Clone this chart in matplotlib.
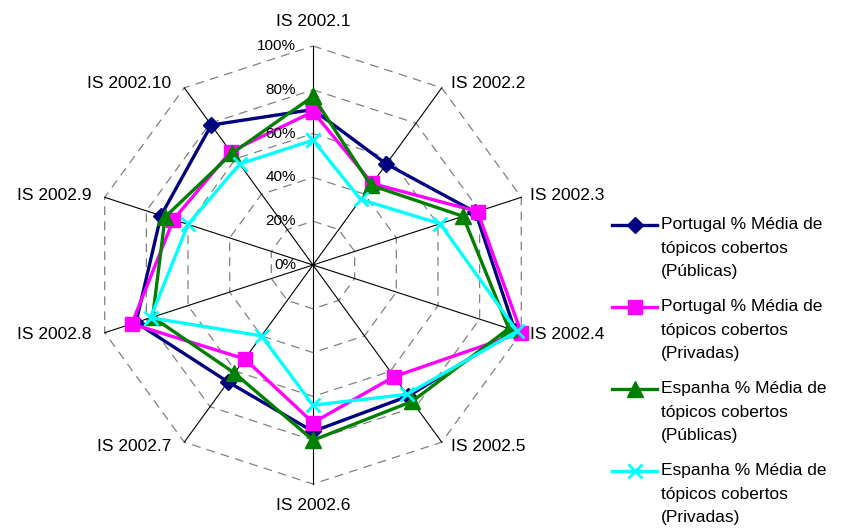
import numpy as np
import matplotlib
matplotlib.use("Agg")
import matplotlib.pyplot as plt
from matplotlib.lines import Line2D

plt.rcParams["font.family"] = ["Liberation Sans", "DejaVu Sans"]

categories = ["IS 2002.1", "IS 2002.2", "IS 2002.3", "IS 2002.4", "IS 2002.5",
              "IS 2002.6", "IS 2002.7", "IS 2002.8", "IS 2002.9", "IS 2002.10"]
pt_publicas = [71, 57, 78, 97, 74, 76, 66, 85, 73, 79]
pt_privadas = [70, 46, 79, 100, 63, 72, 53, 87, 67, 64]
es_publicas = [77, 45, 72, 94, 77, 80, 61, 77, 71, 63]
es_privadas = [57, 37, 61, 98, 73, 64, 40, 78, 60, 57]
grid_levels = [0, 20, 40, 60, 80, 100]

series = [
    ("Portugal % Média de\ntópicos cobertos\n(Públicas)", pt_publicas, "#000080", "D", 8),
    ("Portugal % Média de\ntópicos cobertos\n(Privadas)", pt_privadas, "#FF00FF", "s", 10),
    ("Espanha % Média de\ntópicos cobertos\n(Públicas)", es_publicas, "#008000", "^", 11),
    ("Espanha % Média de\ntópicos cobertos\n(Privadas)", es_privadas, "#00FFFF", "x", 10),
]

W, H = 855, 529
fig = plt.figure(figsize=(W / 100, H / 100), dpi=100)
cx, cy, R = 313, 265, 219
ax = fig.add_axes([(cx - R) / W, (H - cy - R) / H, 2 * R / W, 2 * R / H], projection="polar")
ax.set_theta_zero_location("N")
ax.set_theta_direction(-1)
ax.set_ylim(0, 100)
ax.grid(False)
ax.set_xticks([])
ax.set_yticks([])
ax.spines["polar"].set_visible(False)

n = len(categories)
angles = np.arange(n) * 2 * np.pi / n
closed = np.append(angles, angles[0])

# dashed polygon grid
for lv in grid_levels[1:]:
    ax.plot(closed, [lv] * (n + 1), color="#808080", lw=0.9, ls=(0, (7, 5)), zorder=1, clip_on=False)
# spokes
for a in angles:
    ax.plot([a, a], [0, 100], color="black", lw=0.8, zorder=2, clip_on=False)

for label, vals, col, mk, ms in series:
    v = list(vals) + [vals[0]]
    ax.plot(closed, v, color=col, lw=2.4, marker=mk, ms=ms, mew=2 if mk == "x" else 1,
            zorder=3, clip_on=False)

# radial tick labels
for lv in grid_levels:
    ax.annotate(f"{lv}%", xy=(0, lv), xytext=(-17, 0), textcoords="offset pixels",
                ha="right", va="center", fontsize=11, annotation_clip=False)

# category labels
for a, cat in zip(angles, categories):
    s, c = np.sin(a), np.cos(a)
    if abs(s) < 0.1:
        ha, dx, dy = "center", 0, (25 if c > 0 else -22)
    elif s > 0:
        ha, dx, dy = "left", 9, 5 * c
    else:
        ha, dx, dy = "right", -13, 5 * c
    ax.annotate(cat, xy=(a, 100), xytext=(dx, dy), textcoords="offset pixels",
                ha=ha, va="center", fontsize=12.5, annotation_clip=False)

# legend (handle aligned with first text line)
for i, (label, vals, col, mk, ms) in enumerate(series):
    y = 1 - (225 + 82 * i) / H
    fig.add_artist(Line2D([612 / W, 657 / W], [y, y], color=col, lw=2.4))
    fig.add_artist(Line2D([634.5 / W], [y], color=col, marker=mk, ms=ms,
                          mew=2 if mk == "x" else 1))
    fig.text(661 / W, y + 8 / H, label, ha="left", va="top", fontsize=12.5,
             linespacing=1.72)

fig.savefig("out.png", dpi=100)
